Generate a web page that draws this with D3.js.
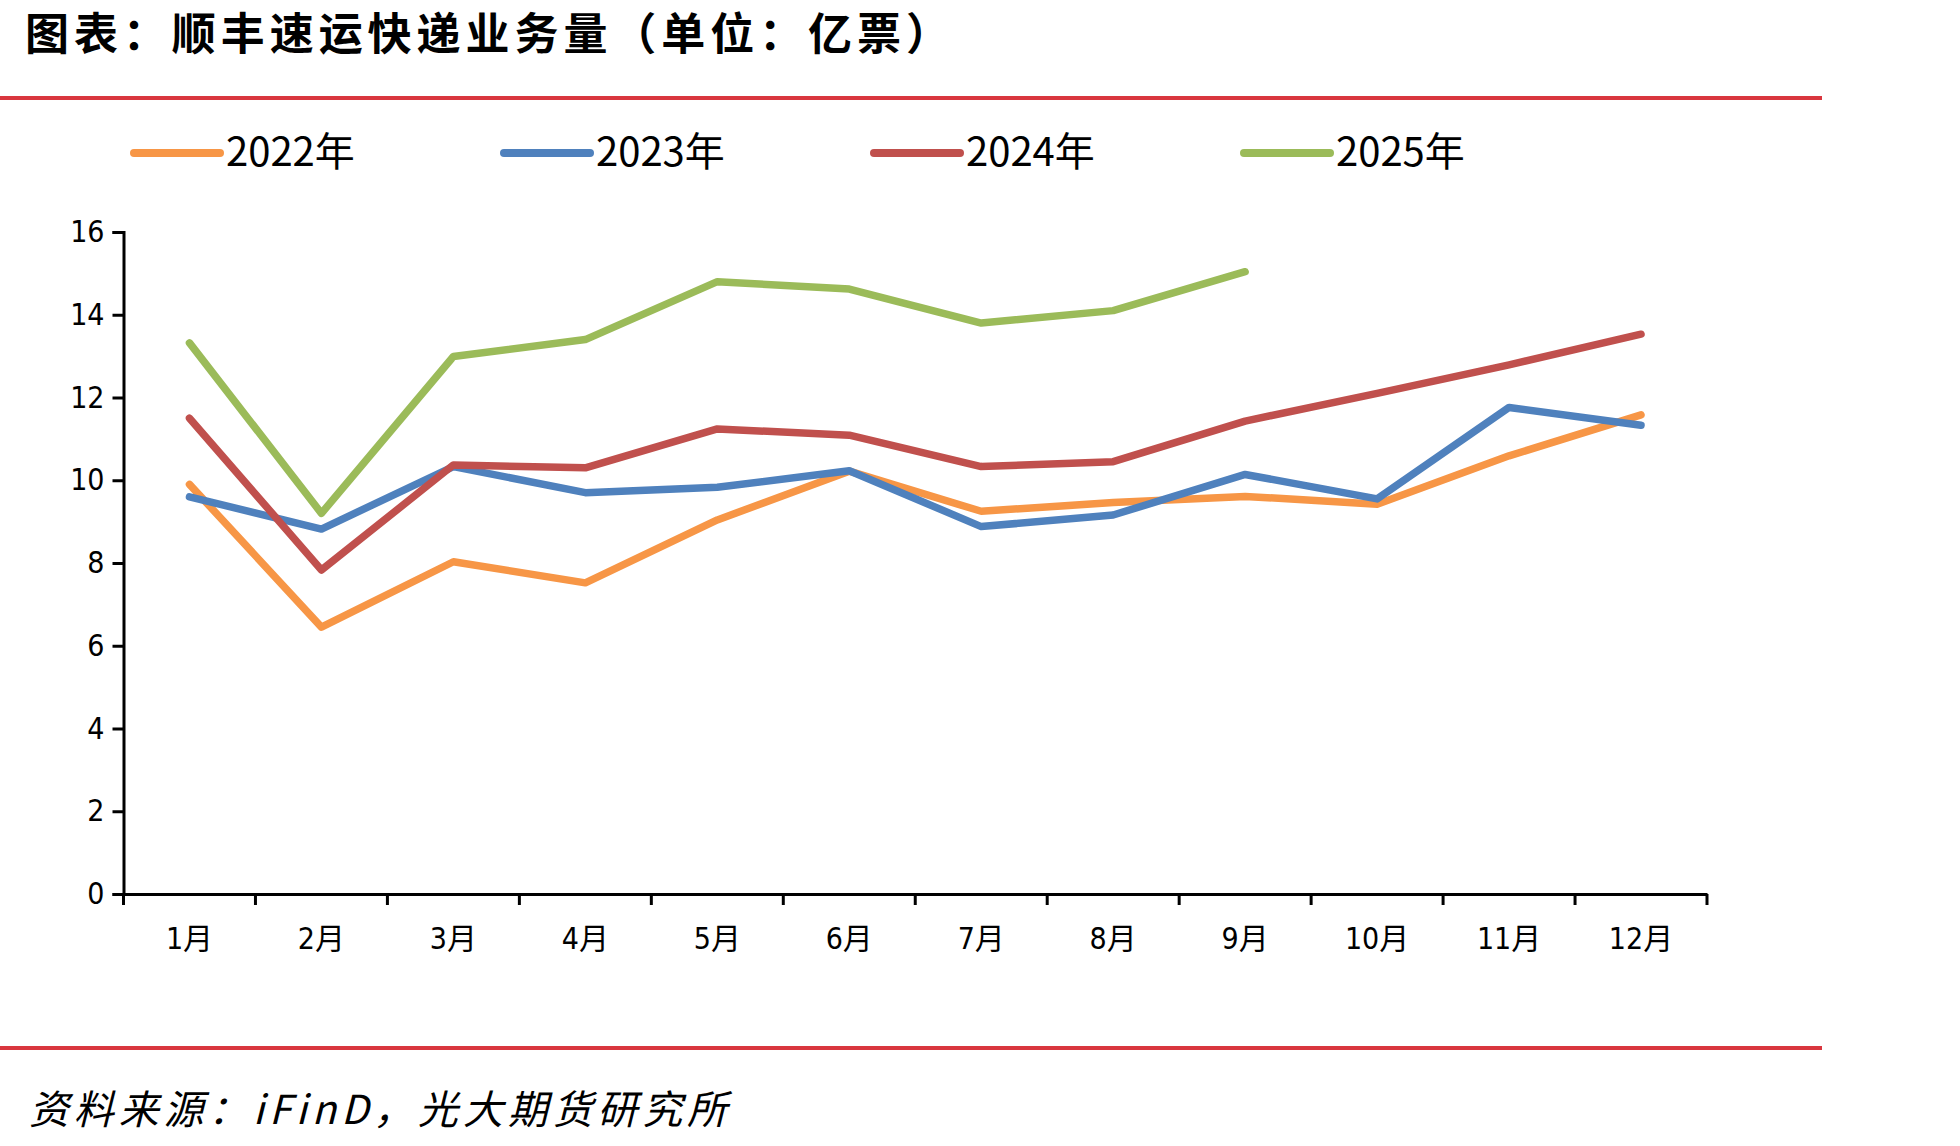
<!DOCTYPE html>
<html>
<head>
<meta charset="utf-8">
<script src="https://cdn.jsdelivr.net/npm/d3@7"></script>
<style>
  body { margin: 0; background: #fff; }
  svg { display: block; }
  .axis text { font-family: "Liberation Sans Narrow", "DejaVu Sans Condensed", "Noto Sans CJK SC", sans-serif; fill: #000; }
</style>
</head>
<body>
<div id="chart"></div>
<script>
// data (unit: 亿票)
var months = ["1月","2月","3月","4月","5月","6月","7月","8月","9月","10月","11月","12月"];
var years = ["2022年","2023年","2024年","2025年"];
var colors = ["#F79646","#4F81BD","#C0504D","#9BBB59"];
var v2022 = [9.9, 6.45, 8.03, 7.52, 9.04, 10.22, 9.25, 9.46, 9.61, 9.42, 10.59, 11.58];
var v2023 = [9.6, 8.82, 10.33, 9.7, 9.83, 10.23, 8.88, 9.16, 10.14, 9.55, 11.76, 11.33];
var v2024 = [11.5, 7.83, 10.37, 10.3, 11.24, 11.09, 10.33, 10.45, 11.43, 12.1, 12.79, 13.53];
var v2025 = [13.32, 9.2, 12.99, 13.4, 14.8, 14.62, 13.8, 14.1, 15.04];
var yTicks = [0, 2, 4, 6, 8, 10, 12, 14, 16];

var series = [v2022, v2023, v2024, v2025];

var W = 1960, H = 1146;
var margin = {left: 123.5, right: 253, top: 232, bottom: 252};
var width = W - margin.left - margin.right,
    height = H - margin.top - margin.bottom;

var svg = d3.select("#chart").append("svg")
    .attr("width", W)
    .attr("height", H);

// title and red rules
svg.append("text")
    .attr("x", 25).attr("y", 50)
    .style("font-family", "'Noto Sans CJK SC', sans-serif")
    .style("font-weight", "bold")
    .style("font-size", "44px")
    .attr("textLength", 925)
    .text("图表：顺丰速运快递业务量（单位：亿票）");

svg.append("rect").attr("x", 0).attr("y", 96).attr("width", 1822).attr("height", 4).attr("fill", "#D9363E");
svg.append("rect").attr("x", 0).attr("y", 1046).attr("width", 1822).attr("height", 4).attr("fill", "#D9363E");

svg.append("text")
    .attr("x", 29).attr("y", 1124)
    .style("font-family", "'Noto Sans CJK SC', sans-serif")
    .style("font-style", "italic")
    .style("font-size", "40px")
    .attr("textLength", 698)
    .text("资料来源：iFinD，光大期货研究所");

// legend
var legend = svg.append("g").attr("class", "legend");
years.forEach(function(y, i) {
    var lx = 134 + i * 370;
    legend.append("line")
        .attr("x1", lx).attr("x2", lx + 86)
        .attr("y1", 153).attr("y2", 153)
        .attr("stroke", colors[i])
        .attr("stroke-width", 8)
        .attr("stroke-linecap", "round");
    legend.append("text")
        .attr("x", lx + 92).attr("y", 166)
        .style("font-family", "'Liberation Sans Narrow', 'Noto Sans CJK SC', sans-serif")
        .style("font-size", "40px")
        .text(y);
});

var g = svg.append("g")
    .attr("transform", "translate(" + margin.left + "," + margin.top + ")");

var x = d3.scaleBand().domain(months).range([0, width]);
var y = d3.scaleLinear().domain([0, 16]).range([height, 0]);

var xAxis = d3.axisBottom(x).tickSize(0).tickPadding(34);
var yAxis = d3.axisLeft(y).tickValues(yTicks).tickSize(11).tickPadding(8);

var gx = g.append("g")
    .attr("class", "x axis")
    .attr("transform", "translate(0," + height + ")")
    .call(xAxis);
gx.selectAll("text").style("font-size", "30px");
gx.select(".domain").attr("stroke", "#000").attr("stroke-width", 3);
// boundary ticks between months
gx.selectAll(".bound")
    .data(months.map(function(m) { return x(m); }).concat([width]))
    .enter().append("line")
    .attr("class", "bound")
    .attr("x1", function(d) { return d; })
    .attr("x2", function(d) { return d; })
    .attr("y1", 0).attr("y2", 11)
    .attr("stroke", "#000").attr("stroke-width", 3);

var gy = g.append("g")
    .attr("class", "y axis")
    .call(yAxis);
gy.selectAll("text").style("font-size", "30px");
gy.select(".domain").attr("stroke", "#000").attr("stroke-width", 3);
gy.selectAll(".tick line").attr("stroke", "#000").attr("stroke-width", 3);

var line = d3.line()
    .x(function(d, i) { return x(months[i]) + x.bandwidth() / 2; })
    .y(function(d) { return y(d); });

series.forEach(function(s, i) {
    g.append("path")
        .datum(s)
        .attr("fill", "none")
        .attr("stroke", colors[i])
        .attr("stroke-width", 7.5)
        .attr("stroke-linecap", "round")
        .attr("stroke-linejoin", "round")
        .attr("d", line);
});
</script>
</body>
</html>
